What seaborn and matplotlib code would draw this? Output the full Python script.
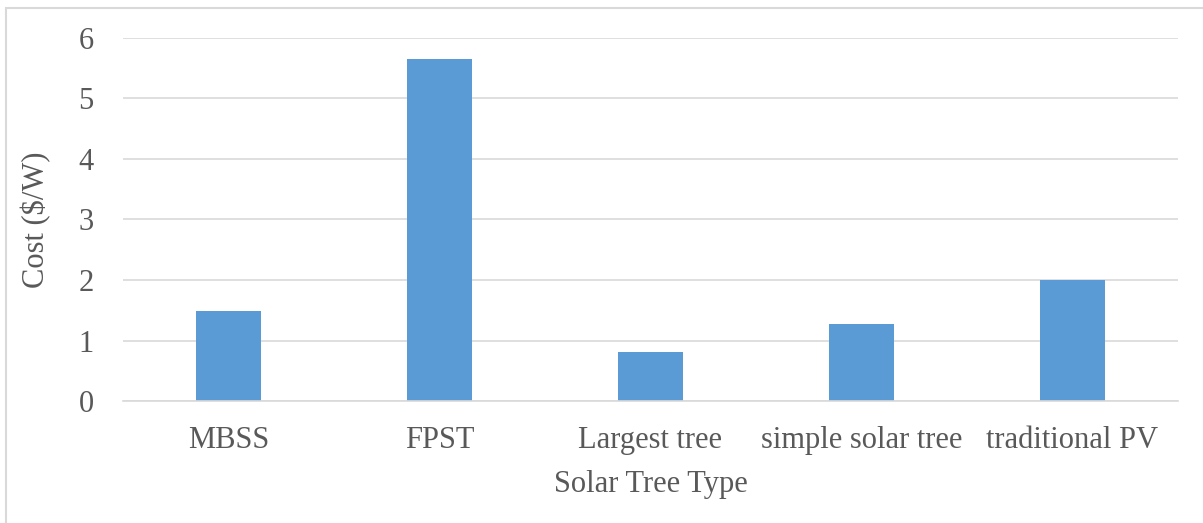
import matplotlib
matplotlib.use("Agg")
import matplotlib.pyplot as plt
import matplotlib.patches as mpatches
import seaborn as sns
import pandas as pd

categories = ["MBSS", "FPST", "Largest tree", "simple solar tree", "traditional PV"]
costs = [1.48, 5.65, 0.81, 1.28, 2.0]
y_ticks = [0, 1, 2, 3, 4, 5, 6]

sns.set_theme(style="white")
plt.rcParams["font.family"] = ["Liberation Serif", "DejaVu Serif"]

text_color = "#595959"
grid_color = "#D9D9D9"

df = pd.DataFrame({"type": categories, "cost": costs})

fig = plt.figure(figsize=(12.03, 5.23), dpi=100)
ax = fig.add_axes([123 / 1203, 122 / 523, 1055 / 1203, 363 / 523])

sns.barplot(data=df, x="type", y="cost", color="#5B9BD5", width=0.31,
            linewidth=0, saturation=1, ax=ax)

ax.set_ylim(0, 6)
ax.set_yticks(y_ticks)
ax.grid(axis="y", color=grid_color, linewidth=1.2)
ax.set_axisbelow(True)
for s in ["top", "right", "left"]:
    ax.spines[s].set_visible(False)
ax.spines["bottom"].set_color(grid_color)
ax.spines["bottom"].set_linewidth(1.2)

ax.tick_params(axis="both", length=0, labelsize=22, colors=text_color)
ax.tick_params(axis="y", pad=21)
ax.tick_params(axis="x", pad=18)
ax.set_xlabel("Solar Tree Type", fontsize=22, color=text_color, labelpad=11)
ax.set_ylabel("Cost ($/W)", fontsize=22, color=text_color, labelpad=20)

# light frame around the chart area (right and bottom edges fall outside)
frame = mpatches.Rectangle((6 / 1203, -0.05), 1.1, 1.05 - 8 / 523,
                           transform=fig.transFigure, fill=False,
                           edgecolor="#D9D9D9", linewidth=1.5)
fig.patches.append(frame)

fig.savefig("out.png", dpi=100)
